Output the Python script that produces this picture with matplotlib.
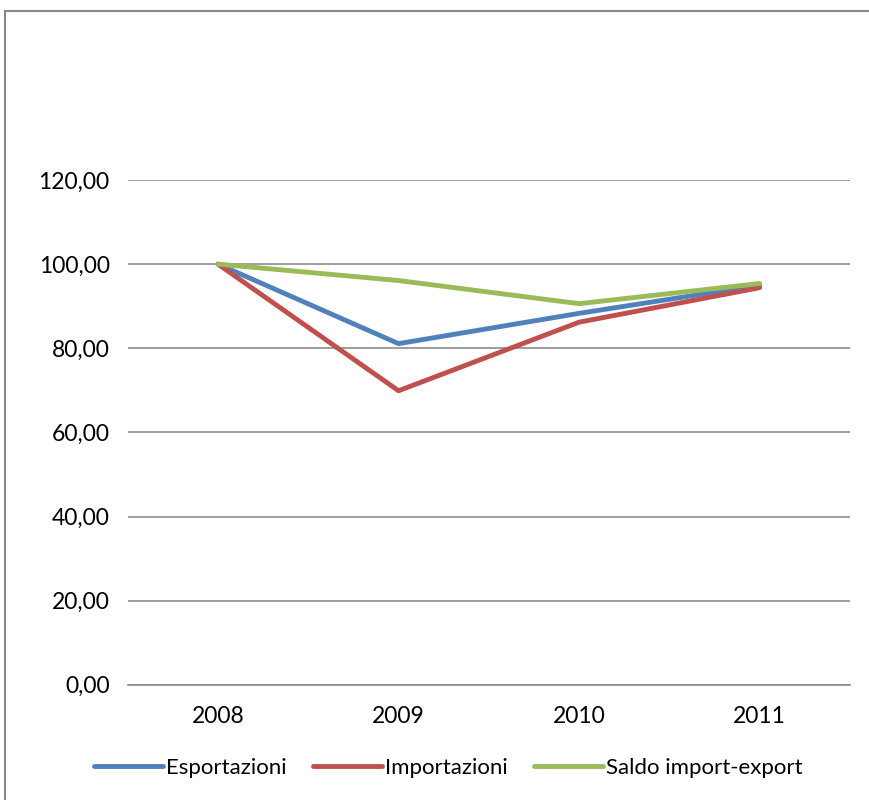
import matplotlib.pyplot as plt
from matplotlib.patches import Rectangle
from matplotlib.ticker import FuncFormatter

anni = ["2008", "2009", "2010", "2011"]
esportazioni = [100.0, 81.1, 88.3, 95.0]
importazioni = [100.0, 69.9, 86.2, 94.4]
saldo = [100.0, 96.1, 90.6, 95.4]

plt.rcParams["font.family"] = ["Lato", "DejaVu Sans"]

fig = plt.figure(figsize=(8.69, 8.0), dpi=100)
ax = fig.add_axes([0.147, 0.144, 0.831, 0.631])

x = range(len(anni))
ax.plot(x, esportazioni, color="#4F81BD", lw=3.5, label="Esportazioni", solid_capstyle="round")
ax.plot(x, importazioni, color="#C0504D", lw=3.5, label="Importazioni", solid_capstyle="round")
ax.plot(x, saldo, color="#9BBB59", lw=3.5, label="Saldo import-export", solid_capstyle="round")

ax.set_xlim(-0.5, len(anni) - 0.5)
ax.set_ylim(0, 120)
ax.set_yticks(range(0, 121, 20))
ax.yaxis.set_major_formatter(FuncFormatter(lambda v, p: f"{v:.2f}".replace(".", ",")))
ax.set_xticks(list(x))
ax.set_xticklabels(anni)
ax.grid(axis="y", color="#8c8c8c", lw=1.2)
ax.set_axisbelow(True)
for s in ["top", "right", "left"]:
    ax.spines[s].set_visible(False)
ax.spines["bottom"].set_color("#8c8c8c")
ax.spines["bottom"].set_linewidth(1.2)
ax.tick_params(axis="both", length=0, labelsize=16.5, colors="black")
ax.tick_params(axis="y", pad=13)
ax.tick_params(axis="x", pad=15)

fig.legend(loc="center", bbox_to_anchor=(0.516, 0.04), ncol=3, frameon=False,
           fontsize=16, handlelength=3.1, handletextpad=0.12, columnspacing=1.2)

# cornice esterna del grafico
fig.patches.append(Rectangle((5 / 869, -0.02), 1.0, 1 - 11 / 800 + 0.02,
                             transform=fig.transFigure, fill=False,
                             edgecolor="#888888", lw=1.5))

fig.savefig("out.png", dpi=100)
